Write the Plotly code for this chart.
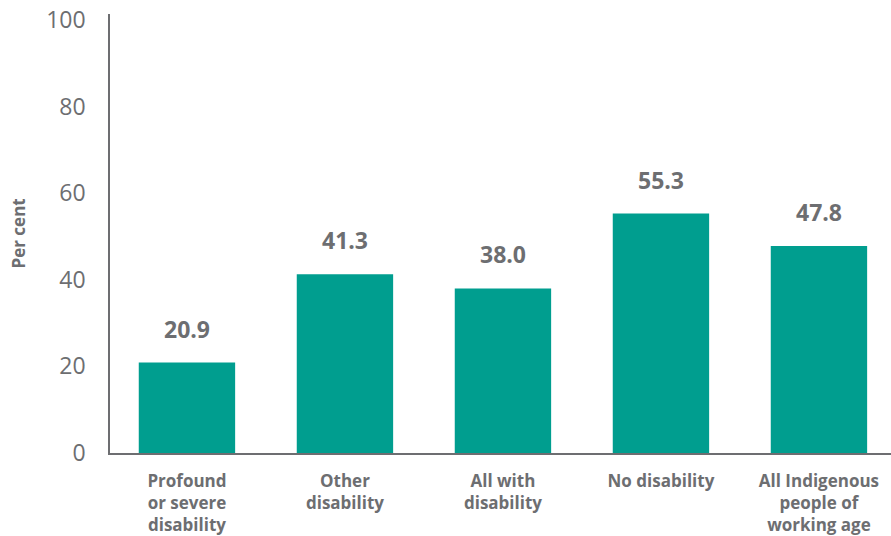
import plotly.graph_objects as go

categories = ["Profound<br>or severe<br>disability", "Other<br>disability", "All with<br>disability",
              "No disability", "All Indigenous<br>people of<br>working age"]
values = [20.9, 41.3, 38.0, 55.3, 47.8]
value_labels = ["20.9", "41.3", "38.0", "55.3", "47.8"]
y_ticks = [0, 20, 40, 60, 80, 100]
y_title = "Per cent"

gray = "#6d6e71"
font_family = "'Open Sans', sans-serif"

fig = go.Figure(go.Bar(x=list(range(len(categories))), y=values, marker_color="#009e8f",
                       marker_line_width=0, width=0.61))

for i, (v, t) in enumerate(zip(values, value_labels)):
    fig.add_annotation(x=i, y=v, text="<b>%s</b>" % t, showarrow=False, yshift=34,
                       font=dict(size=23, color=gray, family=font_family))

fig.add_annotation(xref="paper", yref="paper", x=0, y=0.5, xanchor="center", yanchor="middle",
                   xshift=-92, textangle=-90,
                   text="<b>%s</b>" % y_title, showarrow=False,
                   font=dict(size=17, color=gray, family=font_family))

fig.update_layout(
    width=891, height=536,
    margin=dict(l=110, r=0, t=14, b=83, autoexpand=False),
    plot_bgcolor="white", paper_bgcolor="white",
    showlegend=False,
    xaxis=dict(range=[-0.487, 4.456], tickvals=list(range(len(categories))),
               ticktext=["<b>%s</b>" % c for c in categories], automargin=False,
               showline=True, linecolor=gray, linewidth=1.5, ticks="", showgrid=False,
               zeroline=False, ticklabelstandoff=12, ticklabeloverflow="allow",
               tickfont=dict(size=17, color=gray, family=font_family)),
    yaxis=dict(range=[0, 101.4], tickvals=y_ticks, showline=True, linecolor=gray, linewidth=1.5,
               showgrid=False, zeroline=False, ticks="", ticklabelstandoff=18,
               ticklabeloverflow="allow", automargin=False,
               tickfont=dict(size=23, color=gray, family=font_family)),
)

fig.write_html("out.html", config={"displayModeBar": False},
               post_script="document.body.style.margin='0';")
